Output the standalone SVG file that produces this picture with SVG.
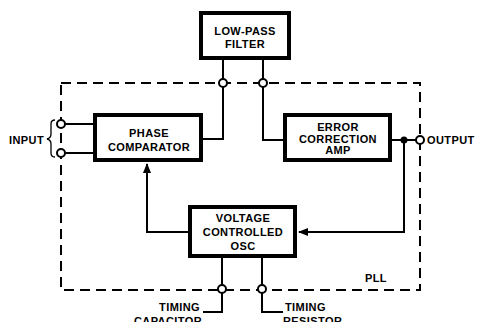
<svg xmlns="http://www.w3.org/2000/svg" width="478" height="322" viewBox="0 0 478 322">
<defs>
<style>
.box{fill:#fff;stroke:#000;stroke-width:4}
.ln{fill:none;stroke:#000;stroke-width:2}
.dash{fill:none;stroke:#000;stroke-width:2;stroke-dasharray:10 6}
.term{fill:#fff;stroke:#000;stroke-width:2}
text{font-family:"Liberation Sans",Arial,sans-serif;font-weight:bold;font-size:11px;letter-spacing:0.4px;fill:#000}
.c{text-anchor:middle}
</style>
<marker id="arr" viewBox="0 0 10 10" refX="9" refY="5" markerWidth="5" markerHeight="5" orient="auto" markerUnits="strokeWidth">
<path d="M0,1 L10,5 L0,9 Z" fill="#000"/>
</marker>
</defs>
<rect width="478" height="322" fill="#fff"/>
<g id="pll-boundary">
<path class="dash" d="M61,83 H420 V290 H61 Z"/>
<text x="365" y="282">PLL</text>
</g>
<g id="connectors">
<path class="ln" d="M223,60 V83"/>
<path class="ln" d="M263,60 V83"/>
<path class="ln" d="M203,139 H223 V87"/>
<path class="ln" d="M263,87 V140 H283"/>
<path class="ln" d="M61,124 H93"/>
<path class="ln" d="M61,153 H93"/>
<path class="ln" d="M392,140 H416"/>
<path class="ln" d="M404,140 V232 H299" marker-end="url(#arr)"/>
<path class="ln" d="M188,232 H147 V164" marker-end="url(#arr)"/>
<path class="ln" d="M222,258 V285"/>
<path class="ln" d="M262,258 V285"/>
<path class="ln" d="M222,293 V312 H203"/>
<path class="ln" d="M262,293 V312 H283"/>
<circle cx="404" cy="140" r="3.5" fill="#000"/>
</g>
<g id="terminals">
<circle class="term" cx="223" cy="83" r="4"/>
<circle class="term" cx="263" cy="83" r="4"/>
<circle class="term" cx="61" cy="124" r="4"/>
<circle class="term" cx="61" cy="153" r="4"/>
<circle class="term" cx="420" cy="140" r="4"/>
<circle class="term" cx="222" cy="289" r="4"/>
<circle class="term" cx="262" cy="289" r="4"/>
</g>
<g id="low-pass-filter">
<rect class="box" x="201" y="13" width="88" height="45"/>
<text class="c" x="245" y="35">LOW-PASS</text>
<text class="c" x="245" y="48">FILTER</text>
</g>
<g id="phase-comparator">
<rect class="box" x="95" y="115" width="106" height="45"/>
<text class="c" x="149" y="137">PHASE</text>
<text class="c" x="149" y="151">COMPARATOR</text>
</g>
<g id="error-correction-amp">
<rect class="box" x="285" y="115" width="105" height="45"/>
<text class="c" x="338" y="131">ERROR</text>
<text class="c" x="338" y="143">CORRECTION</text>
<text class="c" x="338" y="154">AMP</text>
</g>
<g id="vco">
<rect class="box" x="190" y="207" width="105" height="49"/>
<text class="c" x="243" y="222">VOLTAGE</text>
<text class="c" x="243" y="236">CONTROLLED</text>
<text class="c" x="243" y="250">OSC</text>
</g>
<g id="input">
<path class="ln" style="stroke-width:1.3" d="M55,120 Q51,120 51,124 V134 Q51,138 47,139 Q51,140 51,144 V153 Q51,157 55,157"/>
<text x="9" y="144">INPUT</text>
</g>
<g id="output">
<text x="427" y="144">OUTPUT</text>
</g>
<g id="timing-capacitor">
<text x="200" y="311" text-anchor="end">TIMING</text>
<text x="202" y="325" text-anchor="end">CAPACITOR</text>
</g>
<g id="timing-resistor">
<text x="285" y="311">TIMING</text>
<text x="283" y="325">RESISTOR</text>
</g>
</svg>
